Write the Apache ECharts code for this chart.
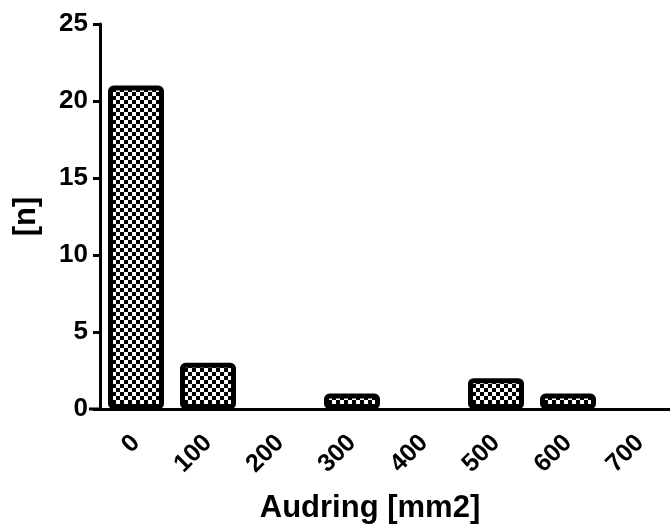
<!DOCTYPE html>
<html>
<head>
<meta charset="utf-8">
<script src="https://cdn.jsdelivr.net/npm/echarts@6/dist/echarts.min.js"></script>
<style>
  html, body { margin: 0; padding: 0; background: #fff; }
  #chart { width: 670px; height: 525px; }
</style>
</head>
<body>
<div id="chart"></div>
<script>
// Histogram of area sizes
const categories = ['0', '100', '200', '300', '400', '500', '600', '700'];
const counts = [21, 3, 0, 1, 0, 2, 1, 0];
const yTicks = [0, 5, 10, 15, 20, 25];

const FONT = '"Liberation Sans", Arial, sans-serif';

// Black/white checkerboard fill for the bars
function checkerPattern(size) {
  const c = document.createElement('canvas');
  c.width = size * 2;
  c.height = size * 2;
  const ctx = c.getContext('2d');
  ctx.fillStyle = '#fff';
  ctx.fillRect(0, 0, size * 2, size * 2);
  ctx.fillStyle = '#000';
  ctx.fillRect(0, 0, size, size);
  ctx.fillRect(size, size, size, size);
  return c;
}

const chart = echarts.init(document.getElementById('chart'), null, { renderer: 'canvas' });

const barData = counts.map(v => v === 0
  ? { value: v, itemStyle: { borderWidth: 0 } }
  : v);

chart.setOption({
  animation: false,
  backgroundColor: '#fff',
  grid: { left: 100, top: 24, width: 576, height: 385, containLabel: false, outerBoundsMode: 'none' },
  xAxis: {
    type: 'category',
    data: categories,
    boundaryGap: true,
    name: 'Audring [mm2]',
    nameLocation: 'middle',
    nameGap: 84,
    nameTextStyle: { fontFamily: FONT, fontWeight: 'bold', fontSize: 31, color: '#000', padding: [0, 36, 0, 0] },
    axisLine: { lineStyle: { color: '#000', width: 3 } },
    axisTick: { alignWithLabel: true, length: 10, lineStyle: { color: '#000', width: 3 } },
    axisLabel: { rotate: 45, margin: 30, fontFamily: FONT, fontWeight: 'bold', fontSize: 25, color: '#000' },
    splitLine: { show: false }
  },
  yAxis: {
    type: 'value',
    min: yTicks[0],
    max: yTicks[yTicks.length - 1],
    interval: 5,
    name: '[n]',
    nameLocation: 'middle',
    nameGap: 58,
    nameTextStyle: { fontFamily: FONT, fontWeight: 'bold', fontSize: 31, color: '#000' },
    axisLine: { show: true, lineStyle: { color: '#000', width: 3 } },
    axisTick: { show: true, length: 7, lineStyle: { color: '#000', width: 3 } },
    axisLabel: { margin: 12, fontFamily: FONT, fontWeight: 'bold', fontSize: 26, color: '#000' },
    splitLine: { show: false }
  },
  series: [{
    type: 'bar',
    data: barData,
    barWidth: 56,
    itemStyle: {
      color: { image: checkerPattern(4), repeat: 'repeat' },
      borderColor: '#000',
      borderWidth: 5,
      borderRadius: 3
    }
  }],
  graphic: [{
    // short stub of the baseline to the left of the y axis
    type: 'line',
    shape: { x1: 89, y1: 409, x2: 101, y2: 409 },
    style: { stroke: '#000', lineWidth: 3 },
    z: 10
  }]
});
</script>
</body>
</html>
